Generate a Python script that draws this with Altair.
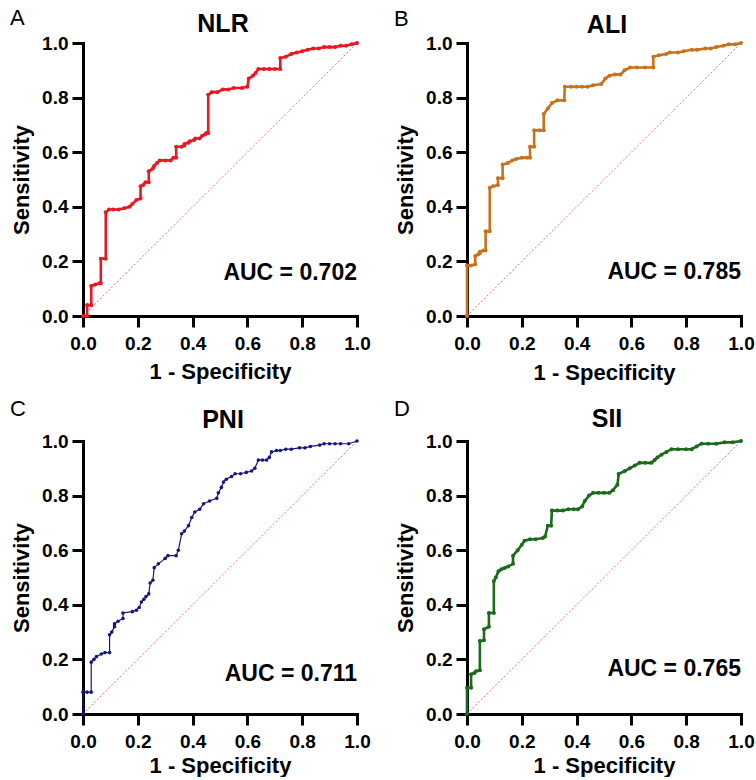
import altair as alt
import pandas as pd

FONT = "Liberation Sans"

# ---------------- data ----------------
nlr_points = [(0, 0), (0.015, 0), (0.015, 0.04), (0.03, 0.04), (0.03, 0.11), (0.045, 0.115),
              (0.06, 0.12), (0.065, 0.12), (0.065, 0.21), (0.083, 0.21), (0.083, 0.38), (0.095, 0.39),
              (0.11, 0.39), (0.13, 0.39), (0.15, 0.395), (0.17, 0.40), (0.18, 0.41), (0.195, 0.425),
              (0.21, 0.43), (0.21, 0.475), (0.22, 0.48), (0.228, 0.49), (0.24, 0.49), (0.24, 0.53),
              (0.255, 0.54), (0.26, 0.55), (0.27, 0.56), (0.28, 0.57), (0.30, 0.57), (0.32, 0.57),
              (0.33, 0.58), (0.34, 0.58), (0.34, 0.62), (0.36, 0.62), (0.37, 0.625), (0.37, 0.63),
              (0.385, 0.635), (0.39, 0.64), (0.405, 0.645), (0.41, 0.65), (0.425, 0.65), (0.435, 0.66),
              (0.445, 0.665), (0.45, 0.67), (0.457, 0.67), (0.457, 0.81), (0.47, 0.82),
              (0.49, 0.82), (0.51, 0.83), (0.53, 0.83), (0.55, 0.835), (0.58, 0.835), (0.60, 0.84),
              (0.605, 0.87), (0.62, 0.88), (0.63, 0.89), (0.64, 0.905), (0.66, 0.905), (0.68, 0.905),
              (0.70, 0.905), (0.72, 0.905), (0.72, 0.945), (0.74, 0.95), (0.76, 0.96), (0.78, 0.965),
              (0.80, 0.97), (0.82, 0.975), (0.84, 0.98), (0.86, 0.98), (0.88, 0.985), (0.90, 0.985),
              (0.92, 0.985), (0.94, 0.99), (0.96, 0.99), (0.98, 0.995), (1.0, 1.0)]

ali_points = [(0, 0), (0, 0.185), (0.015, 0.185), (0.03, 0.19), (0.03, 0.22), (0.04, 0.225),
              (0.047, 0.23), (0.047, 0.235), (0.06, 0.24), (0.068, 0.24), (0.068, 0.31), (0.083, 0.31),
              (0.083, 0.47), (0.095, 0.475), (0.113, 0.48), (0.113, 0.505), (0.13, 0.505), (0.13, 0.555),
              (0.149, 0.56), (0.165, 0.57), (0.18, 0.575), (0.20, 0.58), (0.22, 0.58), (0.23, 0.58),
              (0.23, 0.62), (0.245, 0.62), (0.245, 0.68), (0.265, 0.68), (0.28, 0.68), (0.28, 0.74),
              (0.295, 0.76), (0.31, 0.78), (0.33, 0.79), (0.355, 0.79), (0.357, 0.84), (0.38, 0.84),
              (0.40, 0.84), (0.42, 0.84), (0.44, 0.84), (0.46, 0.845), (0.49, 0.85), (0.505, 0.87),
              (0.52, 0.88), (0.54, 0.885), (0.56, 0.885), (0.575, 0.90), (0.595, 0.91), (0.62, 0.91),
              (0.65, 0.91), (0.68, 0.91), (0.68, 0.95), (0.70, 0.955), (0.727, 0.96), (0.74, 0.965),
              (0.77, 0.965), (0.79, 0.97), (0.82, 0.975), (0.84, 0.975), (0.87, 0.98), (0.89, 0.98),
              (0.91, 0.985), (0.935, 0.99), (0.955, 0.995), (0.98, 0.995), (1.0, 1.0)]

pni_points = [(0, 0), (0, 0.08), (0.015, 0.08), (0.03, 0.08), (0.03, 0.19), (0.04, 0.20),
              (0.049, 0.21), (0.067, 0.22), (0.08, 0.225), (0.097, 0.225), (0.097, 0.29), (0.105, 0.30),
              (0.115, 0.32), (0.115, 0.33), (0.128, 0.34), (0.146, 0.35), (0.146, 0.37), (0.18, 0.375),
              (0.195, 0.38), (0.205, 0.39), (0.213, 0.41), (0.222, 0.42), (0.23, 0.43), (0.24, 0.44),
              (0.245, 0.48), (0.255, 0.49), (0.26, 0.536), (0.275, 0.55), (0.30, 0.57), (0.31, 0.58),
              (0.34, 0.58), (0.348, 0.60), (0.36, 0.66), (0.37, 0.67), (0.385, 0.69), (0.397, 0.72),
              (0.408, 0.74), (0.426, 0.75), (0.44, 0.77), (0.462, 0.78), (0.488, 0.79), (0.494, 0.81),
              (0.505, 0.83), (0.513, 0.85), (0.523, 0.86), (0.542, 0.87), (0.555, 0.88), (0.575, 0.88),
              (0.596, 0.885), (0.615, 0.89), (0.627, 0.90), (0.64, 0.93), (0.655, 0.93), (0.67, 0.93),
              (0.68, 0.94), (0.688, 0.96), (0.706, 0.965), (0.72, 0.965), (0.74, 0.97), (0.76, 0.97),
              (0.79, 0.975), (0.81, 0.975), (0.83, 0.98), (0.864, 0.985), (0.88, 0.99), (0.90, 0.99),
              (0.92, 0.99), (0.94, 0.99), (0.97, 0.99), (1.0, 1.0)]

sii_points = [(0, 0), (0, 0.096), (0.015, 0.096), (0.015, 0.146), (0.027, 0.15), (0.033, 0.157),
              (0.047, 0.16), (0.047, 0.267), (0.062, 0.27), (0.062, 0.31), (0.08, 0.32), (0.08, 0.37),
              (0.098, 0.37), (0.098, 0.487), (0.105, 0.50), (0.115, 0.523), (0.125, 0.53), (0.137, 0.535),
              (0.15, 0.54), (0.168, 0.55), (0.168, 0.58), (0.185, 0.60), (0.2, 0.62), (0.21, 0.635),
              (0.23, 0.64), (0.25, 0.64), (0.277, 0.645), (0.285, 0.65), (0.295, 0.69), (0.307, 0.69),
              (0.31, 0.745), (0.33, 0.745), (0.35, 0.745), (0.37, 0.75), (0.39, 0.75), (0.405, 0.75),
              (0.42, 0.76), (0.43, 0.78), (0.445, 0.80), (0.46, 0.81), (0.48, 0.81), (0.50, 0.81),
              (0.52, 0.81), (0.533, 0.82), (0.549, 0.84), (0.554, 0.88), (0.576, 0.89), (0.594, 0.90),
              (0.612, 0.91), (0.63, 0.92), (0.65, 0.92), (0.673, 0.92), (0.685, 0.93), (0.695, 0.94),
              (0.71, 0.95), (0.728, 0.96), (0.746, 0.97), (0.77, 0.97), (0.80, 0.97), (0.82, 0.97),
              (0.838, 0.98), (0.856, 0.99), (0.88, 0.99), (0.91, 0.99), (0.94, 0.995), (0.97, 0.995),
              (1.0, 1.0)]

diag_x = [0, 1]
diag_y = [0, 1]
tick_values = [0.0, 0.2, 0.4, 0.6, 0.8, 1.0]

letters = ["A", "B", "C", "D"]
titles = ["NLR", "ALI", "PNI", "SII"]
auc_labels = ["AUC = 0.702", "AUC = 0.785", "AUC = 0.711", "AUC = 0.765"]
colors = ["#ee1620", "#c8721e", "#161680", "#1b6b1b"]
all_points = [nlr_points, ali_points, pni_points, sii_points]

# ---------------- layout / style ----------------
W, H = 274, 273
line_widths = [2.6, 2.6, 1.2, 2.6]
dot_sizes = [16, 16, 13, 16]
letter_y = [-18, -17, -25, -25]
title_y = [-11, -10, -13, -14]
auc_y = [237, 236, 240, 235]
xtitle_y = [62, 63, 58, 58]


def make_panel(k):
    df = pd.DataFrame(all_points[k], columns=["fpr", "tpr"])
    df["i"] = range(len(df))
    diag = pd.DataFrame({"fpr": diag_x, "tpr": diag_y})

    common_axis = dict(
        values=tick_values, format=".1f", grid=False,
        domainColor="black", domainWidth=3, domainCap="square",
        tickColor="black", tickWidth=3, tickSize=11,
        labelFont=FONT, labelFontSize=19, labelFontWeight="bold", labelColor="black",
        labelFlush=False, labelOverlap=False,
        titleFont=FONT, titleFontSize=22, titleFontWeight="bold", titleColor="black",
        titleBaseline="alphabetic", titleAlign="center",
    )
    x_enc = alt.X("fpr:Q", scale=alt.Scale(domain=[0, 1], nice=False, zero=False),
                  axis=alt.Axis(title="1 - Specificity", labelPadding=7,
                                titleX=W / 2, titleY=xtitle_y[k], **common_axis))
    y_enc = alt.Y("tpr:Q", scale=alt.Scale(domain=[0, 1], nice=False, zero=False),
                  axis=alt.Axis(title="Sensitivity", labelPadding=4, titleAngle=270,
                                titleX=-55, titleY=H / 2, **common_axis))

    diag_layer = alt.Chart(diag).mark_line(
        color="#e8707e", strokeWidth=1, strokeDash=[2, 2]
    ).encode(x=x_enc, y=y_enc)

    line_layer = alt.Chart(df).mark_line(
        color=colors[k], strokeWidth=line_widths[k]
    ).encode(x="fpr:Q", y="tpr:Q", order="i:Q")

    dot_layer = alt.Chart(df).mark_circle(
        color=colors[k], size=dot_sizes[k], opacity=1
    ).encode(x="fpr:Q", y="tpr:Q")

    letter_layer = alt.Chart(pd.DataFrame({"t": [letters[k]]})).mark_text(
        font=FONT, fontSize=22, align="left", baseline="alphabetic", color="black"
    ).encode(text="t:N", x=alt.value(-73), y=alt.value(letter_y[k]))

    title_layer = alt.Chart(pd.DataFrame({"t": [titles[k]]})).mark_text(
        font=FONT, fontSize=25, fontWeight="bold", align="center",
        baseline="alphabetic", color="black"
    ).encode(text="t:N", x=alt.value(W / 2 + 3), y=alt.value(title_y[k]))

    auc_layer = alt.Chart(pd.DataFrame({"t": [auc_labels[k]]})).mark_text(
        font=FONT, fontSize=23, fontWeight="bold", align="right",
        baseline="alphabetic", color="black"
    ).encode(text="t:N", x=alt.value(W), y=alt.value(auc_y[k]))

    return alt.layer(diag_layer, line_layer, dot_layer, letter_layer,
                     title_layer, auc_layer).properties(width=W, height=H)


chart = alt.concat(
    *[make_panel(k) for k in range(4)],
    columns=2,
    spacing=alt.RowColnumber(row=125, column=110),
    bounds="flush",
).properties(
    padding={"left": 9, "top": 6, "right": 0, "bottom": 0}
).configure_view(stroke="transparent")

chart.save("out.html", embed_options={"renderer": "svg", "actions": False})
